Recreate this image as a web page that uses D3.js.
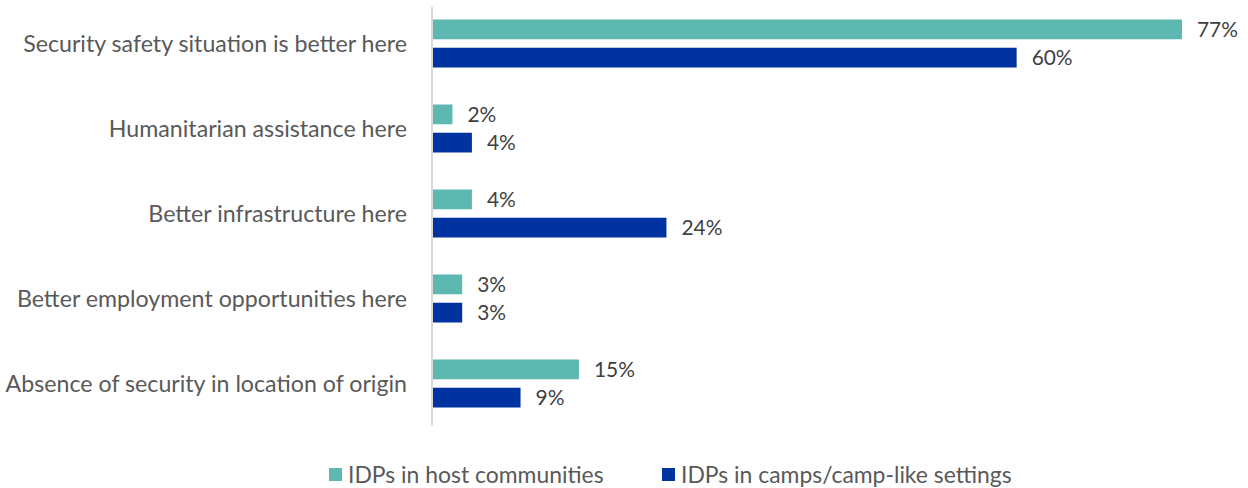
<!DOCTYPE html>
<html>
<head>
<meta charset="utf-8">
<script src="https://cdn.jsdelivr.net/npm/d3@7/dist/d3.min.js"></script>
<style>
  html, body { margin: 0; padding: 0; background: #fff; }
  svg { display: block; font-family: "Lato", "Open Sans", "Noto Sans", sans-serif; }
</style>
</head>
<body>
<svg id="chart" width="1248" height="488"></svg>
<script>
// Reasons for choosing current location, by displacement setting (%)
const categories = [
  "Security safety situation is better here",
  "Humanitarian assistance here",
  "Better infrastructure here",
  "Better employment opportunities here",
  "Absence of security in location of origin"
];
const seriesNames = ["IDPs in host communities", "IDPs in camps/camp-like settings"];
const hostValues = [77, 2, 4, 3, 15];
const campValues = [60, 4, 24, 3, 9];
const colors = ["#5DB8B2", "#0033A0"];

const svg = d3.select("#chart");
const margin = { top: 1, left: 433, bottom: 62 };
const height = 488;

// size a font so that a sample string spans the given width
function fitSize(sample, width) {
  const t = svg.append("text").attr("font-size", 20).text(sample);
  const w = t.node().getComputedTextLength();
  t.remove();
  return 20 * width / w;
}
const catSize = fitSize(categories[0], 384);
const valSize = fitSize("77%", 41);
const legSize = fitSize(seriesNames[1], 331);

const x = d3.scaleLinear().domain([0, 77]).range([margin.left, 1182]);
const y = d3.scaleBand().domain(categories).range([margin.top, height - margin.bottom]);
const inner = d3.scaleBand().domain(seriesNames).range([y.bandwidth() / 2 - 24, y.bandwidth() / 2 + 24]).paddingInner(0.3);

const rows = categories.map((c, i) => ({ cat: c, vals: [hostValues[i], campValues[i]] }));

// vertical category axis line
svg.append("line")
  .attr("x1", margin.left - 1).attr("x2", margin.left - 1)
  .attr("y1", y.range()[0] + 6).attr("y2", y.range()[1])
  .attr("stroke", "#d9d9d9").attr("stroke-width", 2);

const g = svg.selectAll("g.row").data(rows).join("g")
  .attr("class", "row")
  .attr("transform", d => `translate(0,${y(d.cat)})`);

g.append("text")
  .attr("x", 407)
  .attr("y", y.bandwidth() / 2)
  .attr("dy", "0.35em")
  .attr("text-anchor", "end")
  .attr("fill", "#595959")
  .attr("font-size", catSize)
  .text(d => d.cat);

g.selectAll("rect").data(d => d.vals.map((v, j) => ({ v, s: seriesNames[j], j }))).join("rect")
  .attr("x", x(0))
  .attr("y", d => inner(d.s))
  .attr("width", d => x(d.v) - x(0))
  .attr("height", inner.bandwidth())
  .attr("fill", d => colors[d.j]);

g.selectAll("text.val").data(d => d.vals.map((v, j) => ({ v, s: seriesNames[j], j }))).join("text")
  .attr("class", "val")
  .attr("x", d => x(d.v) + 15)
  .attr("y", d => inner(d.s) + inner.bandwidth() / 2)
  .attr("dy", "0.35em")
  .attr("fill", "#404040")
  .attr("font-size", valSize)
  .text(d => d.v + "%");

// legend
const legendX = [329, 662];
const lg = svg.selectAll("g.legend").data(seriesNames).join("g")
  .attr("class", "legend")
  .attr("transform", (d, i) => `translate(${legendX[i]},475)`);
lg.append("rect").attr("x", 0).attr("y", -7).attr("width", 13).attr("height", 13)
  .attr("fill", (d, i) => colors[i]);
lg.append("text").attr("x", 19).attr("y", 0).attr("dy", "0.35em")
  .attr("fill", "#595959").attr("font-size", legSize).text(d => d);
</script>
</body>
</html>
